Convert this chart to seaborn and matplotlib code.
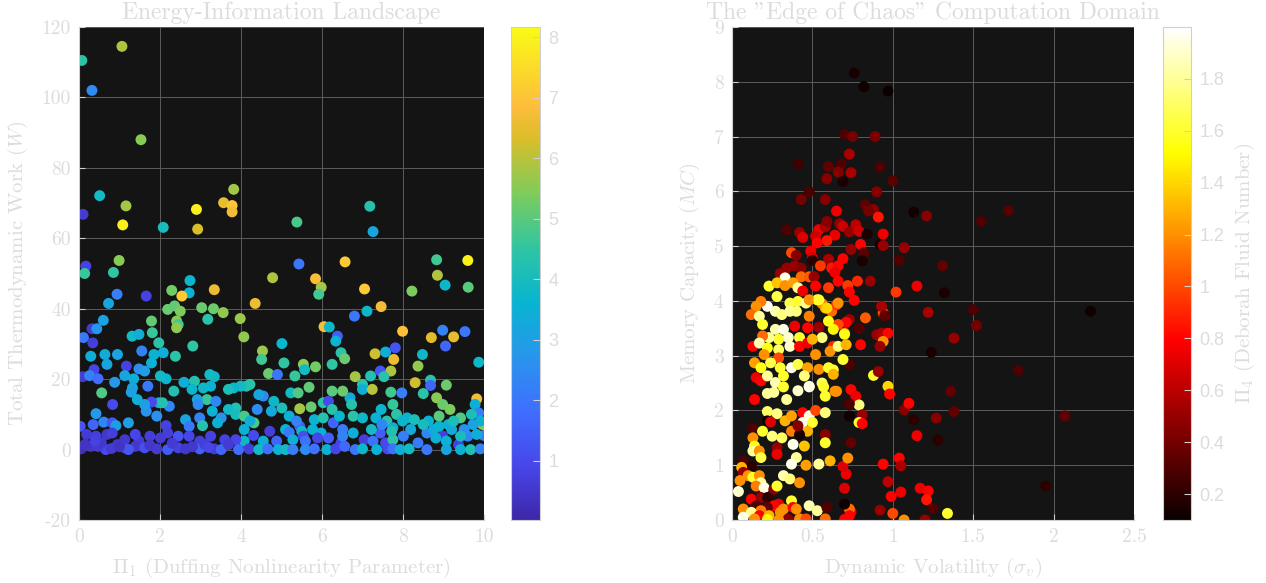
import matplotlib
matplotlib.use("Agg")
import numpy as np
import pandas as pd
import matplotlib.pyplot as plt
import seaborn as sns
from matplotlib.colors import LinearSegmentedColormap, Normalize
from matplotlib.ticker import FuncFormatter
import matplotlib.cm as mcm

# ---------------- LEFT PANEL DATA: Pi_1, W, colour value ----------------
left_x_top = [0.07,0.32,1.06,1.53,0.51,0.10,1.16,1.08,2.08,2.90, 2.93,3.57,3.78,3.78,3.82,5.38,7.18,7.26,0.17,0.14,
              0.99,0.85,5.43,6.57,4.78,5.84,5.98,5.92,7.05,8.22, 8.83,8.85,9.04,9.60,9.61,2.74,2.72,2.29,3.34,2.54,
              0.94,1.66,4.35]
left_y_top = [110.5,102,114.5,88,72.1,66.8,69.2,63.8,63.1,68.2, 62.6,70.1,69.3,67.5,73.9,64.6,69.1,61.9,52.1,50.0,
              53.7,50.3,52.7,53.3,48.8,48.5,46.1,44.1,45.6,45.0, 53.9,49.5,46.7,53.7,46.1,48.0,44.5,45.2,45.4,43.6,
              44.1,43.6,41.5]
left_c_top = [4.4,2.5,5.9,5.5,3.9,0.6,5.8,7.9,4.0,7.9, 6.3,6.5,7.0,6.7,5.8,4.8,4.3,3.2,0.8,4.6,
              5.5,4.5,2.0,7.1,5.9,6.8,5.8,4.7,7.1,5.4, 4.7,5.9,3.8,8.0,5.0,3.7,3.6,5.3,6.6,7.1,
              2.2,0.8,6.6]

left_x_mid = [0.73,0.60,0.32,0.44,0.11,0.34,0.29,0.64,0.69,0.95, 0.37,0.09,0.26,0.47,0.88,0.56,0.83,0.42,0.61,0.82,
              0.91,0.03,0.35,0.19,0.42,0.69,0.82,1.31,1.48,1.81, 1.79,1.55,1.85,1.97,2.08,1.79,2.19,2.36,2.50,2.41,
              2.45,2.41,3.03,3.32,3.56,3.18,2.81,2.38,3.98,4.07, 4.53,4.51,5.01,5.06,4.68,4.90,5.33,5.54,5.57,5.84,
              5.68,6.05,6.18,6.38,6.34,6.47,6.56,6.25,6.80,7.11, 7.46,7.99,8.70,8.98,9.05,9.25,9.53,7.31,7.57,7.81,
              7.77,8.48,8.37,7.44,7.70,6.82,7.20,7.53,7.00,7.00, 7.24,7.70,7.97,8.30,8.68,8.68,9.07,8.50,9.87,9.82,
              8.83,8.98,9.16,9.78,9.97,9.87,7.75,7.46,7.84,8.10, 8.28,8.89,9.42,6.69,6.73,6.77,7.00,6.25,6.51,6.03,
              6.16,6.25,5.23,5.41,5.45,5.73,5.01,4.81,4.55,4.44, 4.22,4.13,3.99,3.82,3.69,3.25,3.34,3.23,2.85,2.59,
              2.79,3.07,2.34,2.15,2.01,2.23,1.97,2.06,1.79,1.70, 1.17,1.13,1.35,1.32,1.29,1.48,1.62,1.66,1.62,1.44,
              1.92,2.15,2.63,2.72,2.98,3.05,3.16,2.92,2.94,3.38, 3.51,3.42,3.29,3.87,3.69,3.87,4.08,4.32,4.31,4.71,
              4.08,5.10,5.19,5.45,5.77,5.98,6.28,6.51,4.75,4.40, 4.22,5.19,5.37,5.50,5.81,6.03,6.43,7.33,7.60,7.99,
              8.63,9.12,9.69,9.91,1.22]
left_y_mid = [41.5,36.7,34.3,34.3,31.8,30.3,26.5,27.0,24.2,27.0, 22.7,20.7,21.0,20.1,19.1,16.1,12.8,10.2,7.8,7.6,
              6.8,6.6,7.1,4.3,3.8,4.3,4.7,32.2,32.7,33.2, 36.5,28.0,27.0,30.3,27.5,24.6,39.8,40.8,39.3,36.5,
              35.5,34.6,40.3,40.0,38.9,37.0,29.4,26.5,37.2,32.0, 28.0,25.6,30.1,24.6,21.6,21.3,20.9,24.2,22.7,23.5,
              17.7,34.9,34.8,32.2,30.8,27.5,25.8,24.2,37.9,39.3, 40.6,33.6,31.8,33.9,29.4,32.0,33.5,27.2,27.7,28.9,
              25.6,27.0,23.7,22.3,22.3,20.7,20.9,20.7,18.5,17.1, 17.1,16.3,16.1,19.0,19.7,18.2,18.3,15.9,24.8,14.4,
              14.7,12.8,11.4,12.8,7.1,10.4,12.8,11.4,10.0,9.0, 8.5,9.5,9.0,14.7,12.8,9.5,9.0,16.6,16.6,13.3,
              13.7,11.4,16.1,16.1,11.6,12.1,11.8,13.7,15.2,15.6, 18.5,18.0,18.0,17.5,17.1,18.0,20.7,21.3,19.4,19.1,
              17.1,17.5,16.6,20.1,20.9,12.3,13.3,13.3,13.5,18.0, 23.7,21.0,20.1,17.5,16.3,22.9,22.3,10.9,12.8,14.2,
              9.5,6.8,8.5,6.6,9.0,6.8,14.2,14.2,12.8,13.7, 9.0,7.6,10.9,11.8,11.4,10.0,9.5,7.6,4.0,5.2,
              5.7,5.7,4.9,6.6,5.7,4.7,7.6,5.7,10.9,11.4, 8.1,9.5,8.1,5.2,8.5,9.0,9.5,9.0,8.1,8.1,
              8.1,7.1,10.0,8.1,7.6]
left_c_mid = [3.2,3.1,0.6,2.7,2.0,0.7,3.4,3.3,3.2,3.1, 0.9,0.6,2.3,1.8,2.8,4.9,1.0,2.8,2.4,1.2,
              3.0,1.2,1.6,0.6,0.7,0.5,0.7,3.9,3.4,4.6, 5.1,2.3,3.6,4.4,3.4,3.5,5.2,5.1,5.4,5.5,
              4.7,5.6,5.2,5.2,5.6,4.4,4.5,4.4,5.7,5.6, 5.7,4.7,3.7,4.5,5.2,2.0,4.6,5.6,3.9,5.3,
              5.1,6.8,3.8,1.5,3.6,4.4,5.2,4.5,2.0,3.8, 6.7,6.9,6.4,2.3,1.6,6.5,2.0,6.2,3.4,1.2,
              6.6,3.8,5.6,1.3,5.9,5.8,4.2,4.4,4.4,3.5, 6.0,4.7,2.2,6.2,4.3,1.6,5.2,4.4,3.8,6.7,
              5.5,5.2,5.4,3.5,5.6,2.2,4.6,3.7,4.4,3.6, 4.1,5.0,4.9,3.3,4.3,4.4,3.8,5.0,5.2,4.4,
              1.0,4.4,3.9,4.9,5.8,5.2,4.1,3.8,2.4,3.2, 4.4,4.3,3.9,3.7,4.1,3.6,3.8,3.9,4.3,3.4,
              3.7,3.8,4.2,3.7,3.9,2.4,3.4,4.3,1.0,2.0, 0.8,3.2,3.4,3.1,3.0,2.5,2.9,2.6,3.0,3.4,
              2.6,0.8,3.2,2.0,2.3,4.3,4.6,3.1,2.5,2.4, 2.6,3.5,3.6,4.2,3.9,4.0,4.8,4.8,1.0,0.7,
              3.4,3.6,2.0,1.4,3.6,3.5,1.6,2.1,3.3,2.5, 3.4,3.5,2.3,3.8,3.6,4.3,3.7,3.5,4.3,3.7,
              3.6,3.6,4.1,3.5,3.0]

left_x_low = [6.47,7.04,7.44,7.26,7.57,7.75,8.37,8.98,9.37,9.60, 10.0,9.07,8.59,8.19,8.50,8.76,9.20,9.51,9.73,9.82,
              9.25,8.89,7.75,7.48,7.22,6.77,6.51,6.16,5.89,5.54, 5.59,5.28,4.88,4.55,4.08,3.87,3.60,3.25,2.98,2.72,
              2.45,2.19,2.01,1.75,1.48,1.39,1.13,9.42,8.81,8.01,7.72,
              0.05,0.29,0.66,0.47,0.95,1.13,1.39,1.62,1.22,1.92, 2.19,2.45,2.63,2.98,3.34,3.51,3.69,3.94,4.20,4.44,
              4.66,4.92,5.10,5.28,5.59,5.81,6.12,6.34,6.56,6.82, 7.00,7.35,7.62,7.75,7.93,8.15,8.59,9.07,9.42,9.67,9.91,
              0.15,0.55,0.80,1.00,1.75,2.30,2.80,3.10,3.20,0.40]
left_y_low = [1.9,2.8,4.7,2.4,1.9,2.8,1.9,3.8,1.4,3.8, 4.0,2.4,4.7,5.7,7.1,5.7,5.7,5.7,7.1,4.3,
              8.1,6.6,6.2,7.1,5.7,4.7,3.8,3.3,3.3,3.8, 2.4,2.8,2.4,2.4,2.4,2.8,2.8,3.8,2.4,3.8,
              3.8,4.7,3.3,3.8,2.4,4.3,2.8,3.8,3.3,3.8,5.2,
              0.2,0.9,0.0,0.9,1.4,0.5,0.9,0.5,0.0,0.2, 0.0,0.5,0.2,0.2,0.2,0.0,1.4,0.0,0.2,0.0,
              0.2,0.0,0.0,0.0,0.0,0.2,0.0,0.2,0.9,0.0, 0.2,0.0,0.2,0.2,0.0,0.2,0.0,0.0,0.0,0.0,0.2,
              1.5,2.0,0.3,0.8,1.2,1.8,0.8,1.5,0.6,2.5]
left_c_low = [0.8,0.7,1.4,1.9,1.0,4.5,2.1,0.7,0.8,2.4, 2.3,3.6,2.4,3.3,4.0,3.3,3.3,2.6,3.1,3.4,
              4.1,3.6,3.4,2.4,3.9,3.4,2.3,1.5,0.9,1.1, 1.9,3.4,1.6,3.4,3.8,0.9,0.8,0.8,0.7,0.9,
              1.2,0.7,0.6,0.7,0.6,0.9,0.5,4.0,3.5,2.2,4.2,
              0.3,0.5,1.0,0.6,0.5,0.7,0.5,1.1,1.3,0.6, 1.4,0.8,0.5,1.5,0.6,1.6,0.6,1.8,0.7,3.9,
              1.9,3.5,3.9,2.2,2.5,1.9,3.5,0.9,1.7,2.0, 3.8,3.6,1.0,1.9,3.4,3.9,2.0,3.2,3.5,4.2,2.3,
              0.4,0.5,0.6,0.4,0.5,0.6,0.5,0.7,0.9,0.8]

# ---------------- RIGHT PANEL DATA: sigma_v, MC, Pi_4 ----------------
right_x_up = [0.76,0.82,0.97,0.70,0.75,0.89,0.73,0.41,0.60,0.68, 0.92,0.59,0.66,0.74,0.69,1.00,0.48,0.90,0.43,0.58,
              0.83,0.88,0.85,0.65,0.91,1.13,1.21,1.55,1.72,0.34, 0.42,0.44,0.54,0.52,0.58,0.59,0.67,0.69,0.64,0.59,
              0.53,0.73,0.77,0.79,0.84,0.94,0.80,0.92,0.94,1.07, 0.74,0.82,0.49,0.37,0.40,0.50,0.50,0.60,0.69,0.81,
              1.04,1.31,0.34,0.39,0.43,0.55,0.62,0.66,0.64,0.30, 0.33,0.43,0.48,0.51,0.23,0.28,0.33,0.38,0.41,0.44,
              0.52,0.60,0.66,0.72,0.78,0.86,1.02,1.15,1.32,0.73]
right_y_up = [8.16,7.91,7.83,7.04,7.00,7.00,6.68,6.50,6.45,6.50, 6.44,6.23,6.35,6.34,6.18,6.19,5.99,5.99,5.85,5.85,
              5.75,5.67,5.64,5.64,5.53,5.62,5.55,5.45,5.65,5.30, 5.25,5.16,5.30,5.18,5.35,5.45,5.41,5.36,5.20,5.10,
              5.06,5.26,5.39,5.27,5.22,5.22,5.03,5.03,5.01,4.97, 4.94,4.88,4.91,4.88,4.83,4.79,4.74,4.76,4.77,4.73,
              4.74,4.64,4.60,4.64,4.60,4.64,4.60,4.64,4.52,4.50, 4.42,4.44,4.44,4.44,4.27,4.33,4.28,4.33,4.24,4.18,
              4.27,4.24,4.36,4.28,4.36,4.36,4.16,4.27,4.15,4.16]
right_c_up = [0.15,0.12,0.10,0.30,0.40,0.42,0.55,0.25,0.35,0.30, 0.30,0.45,0.45,0.55,0.15,0.33,0.28,0.45,0.40,0.45,
              0.35,0.45,0.40,0.75,0.85,0.12,0.45,0.30,0.32,0.30, 0.50,0.70,0.75,0.65,0.55,0.45,0.50,0.65,0.75,0.85,
              0.80,0.50,0.60,0.65,0.15,0.75,0.80,0.15,0.50,0.50, 0.50,0.33,0.75,1.00,0.45,0.70,0.20,0.55,0.80,0.15,
              0.30,0.35,0.50,0.50,0.45,0.95,0.85,0.80,0.75,0.50, 1.95,1.10,1.05,0.50,1.60,1.35,1.20,1.25,1.80,0.75,
              0.80,0.95,0.80,0.95,0.90,0.50,0.95,0.75,0.15,0.80]

right_x_mid = [2.23,2.07,1.95,1.78,1.50,1.52,1.38,1.36,1.38,1.22, 1.24,1.07,1.10,1.13,1.27,1.15,1.28,0.94,1.04,1.05,
               0.97,0.99,1.05,1.17,1.22,1.21,1.25,1.34,1.20,1.07, 1.00,0.92,0.74,0.73,0.70,0.70,0.70,0.71,0.69,0.72,
               0.74,0.97,0.98,0.88,0.91,0.74,0.77,0.79,0.73,0.73, 0.81,0.79,0.81,0.73,0.90,0.93,0.97,0.94,0.92,0.80,
               0.94,0.93,0.95,0.83,0.79,0.76,0.73,0.71,0.70,0.66, 0.63,0.62,0.56,0.53,0.58,0.65,0.60,0.63,0.69,0.63,
               0.65,0.56,0.48]
right_y_mid = [3.81,1.90,0.62,2.73,3.84,3.55,3.32,2.35,1.98,3.79, 3.06,2.01,2.13,1.83,1.86,1.54,1.46,1.02,1.13,0.99,
               0.70,0.43,0.51,0.58,0.53,0.37,0.21,0.12,0.00,0.00, 0.12,0.18,0.15,0.20,0.29,0.01,0.58,0.84,0.98,1.13,
               1.41,2.44,2.30,2.64,2.71,2.38,2.26,2.10,2.12,1.90, 1.92,1.78,1.76,2.84,3.38,3.41,3.41,3.26,3.17,3.20,
               3.78,3.90,3.73,3.69,3.50,4.01,3.66,3.61,3.41,3.57, 3.48,3.81,3.95,4.02,3.87,3.93,3.63,3.17,2.93,2.74,
               2.35,2.50,2.44]
right_c_mid = [0.12,0.35,0.20,0.30,0.30,0.40,0.50,0.35,0.35,0.55, 0.15,0.45,0.80,0.20,0.45,0.75,0.20,0.80,0.80,0.55,
               0.60,0.80,0.75,0.75,0.80,0.85,0.30,1.60,0.50,1.20, 1.00,0.50,0.75,1.10,0.12,0.80,0.70,0.75,0.70,1.20,
               0.35,1.40,0.80,1.60,0.50,0.80,0.75,1.75,0.30,0.12, 0.50,1.60,0.80,0.30,0.50,0.55,0.80,1.20,0.50,0.80,
               1.00,0.55,0.35,1.05,0.30,0.80,0.50,0.80,1.15,1.00, 1.50,1.10,1.15,1.60,1.25,0.95,1.55,0.90,1.60,1.60,
               1.20,1.70,1.90]

right_x_core = [0.28,0.22,0.18,0.15,0.12,0.17,0.19,0.27,0.31,0.36, 0.41,0.36,0.40,0.46,0.48,0.48,0.54,0.59,0.66,0.39,
                0.47,0.54,0.27,0.32,0.35,0.29,0.23,0.19,0.13,0.17, 0.22,0.29,0.36,0.42,0.42,0.47,0.52,0.56,0.50,0.61,
                0.70,0.66,0.71,0.14,0.20,0.29,0.18,0.24,0.30,0.37, 0.41,0.47,0.54,0.60,0.63,0.15,0.18,0.22,0.27,0.32,0.45]
right_y_core = [4.08,3.90,3.99,3.90,3.75,3.72,3.57,3.81,3.75,3.96, 3.99,3.81,3.81,3.96,4.02,3.72,4.02,3.87,3.96,3.54,
                3.51,3.52,3.48,3.48,3.33,3.30,3.33,3.36,3.17,3.23, 3.14,3.11,3.17,3.33,3.17,3.23,3.02,3.33,3.30,3.08,
                3.39,3.17,3.20,2.87,3.02,2.96,2.78,2.87,2.78,2.78, 2.84,2.78,2.75,2.78,2.66,2.60,2.54,2.63,2.51,2.63,2.63]
right_c_core = [1.65,1.98,1.15,1.20,1.10,1.80,1.60,1.85,1.75,1.65, 1.60,1.80,1.75,1.80,1.20,1.15,1.60,1.40,1.20,0.75,
                0.80,0.50,1.85,1.95,1.90,1.60,1.80,1.10,0.80,1.85, 1.55,1.70,1.90,1.60,0.80,0.75,1.20,1.75,1.30,1.20,
                1.55,1.75,1.30,1.25,1.20,1.00,1.55,1.65,1.60,1.95, 1.65,1.25,1.20,1.60,1.30,0.75,0.80,1.80,1.85,1.60,1.75]

right_x_base = [0.14,0.22,0.26,0.34,0.32,0.41,0.48,0.57,0.58,0.64, 0.22,0.28,0.22,0.24,0.33,0.37,0.44,0.48,0.52,0.58,
                0.44,0.50,0.37,0.47,0.42,0.41,0.13,0.19,0.25,0.31, 0.13,0.14,0.13,0.17,0.28,0.28,0.18,0.38,0.45,0.58,
                0.58,0.54,0.40,0.37,0.46,0.61,0.07,0.12,0.06, 0.07,0.10,0.05,0.13,0.17,0.32,0.36,0.42,0.18,0.15,
                0.20,0.26,0.28,0.04,0.12,0.18,0.22,0.29,0.26,0.22, 0.15,0.18,0.07,0.12,0.07,0.17,0.23,0.30,0.32,0.37,
                0.38,0.40,0.48,0.53,0.59,0.42,0.46,0.58,0.35,0.29,0.22,0.14,0.73]
right_y_base = [2.20,2.31,2.33,2.20,2.43,2.36,2.43,2.43,2.26,2.35, 1.98,1.94,1.81,1.79,1.81,1.90,1.96,1.90,2.00,1.96,
                1.78,1.78,1.62,1.62,1.56,1.72,1.68,1.62,1.53,1.50, 1.50,1.35,1.26,1.26,1.32,1.20,1.14,1.38,1.35,1.56,
                1.41,1.02,1.14,1.02,1.00,1.08,1.08,0.98,0.96, 0.87,0.81,0.72,0.78,0.81,0.81,0.75,0.68,0.68,0.62,
                0.59,0.56,0.62,0.52,0.38,0.41,0.41,0.29,0.26,0.23, 0.26,0.17,0.20,0.14,0.05,0.08,0.08,0.14,0.20,0.35,
                0.23,0.20,0.26,0.17,0.23,0.02,0.02,0.02,0.02,0.00,0.01,0.02,0.08]
right_c_base = [0.80,1.80,1.80,1.80,1.60,1.90,1.95,1.60,1.60,1.20, 1.70,1.75,0.12,0.70,1.30,1.25,0.80,1.95,1.00,1.75,
                1.95,1.60,1.15,1.30,0.15,0.45,0.30,1.60,1.75,1.70, 1.20,1.55,1.80,1.20,0.50,0.75,1.65,1.95,1.35,0.45,
                1.60,1.80,1.80,1.95,1.25,1.30,0.30,0.20,1.30, 0.50,1.20,1.20,1.60,1.20,1.85,1.75,1.20,1.80,1.15,
                1.95,0.45,1.60,1.90,0.80,0.50,0.20,0.75,0.80,0.35, 0.30,1.15,1.20,1.80,1.95,0.80,1.30,1.20,1.20,1.60,
                0.80,1.20,1.85,1.80,0.30,1.20,1.00,1.10,0.45,1.20,1.50,1.20,0.80]

left_xticks = [0, 2, 4, 6, 8, 10]
left_yticks = [-20, 0, 20, 40, 60, 80, 100, 120]
left_cticks = [1, 2, 3, 4, 5, 6, 7, 8]
right_xticks = [0, 0.5, 1, 1.5, 2, 2.5]
right_yticks = [0, 1, 2, 3, 4, 5, 6, 7, 8, 9]
right_cticks = [0.2, 0.4, 0.6, 0.8, 1, 1.2, 1.4, 1.6, 1.8]

# ---------------- style ----------------
plt.rcParams.update({
    "font.family": "serif",
    "font.serif": ["cmr10"],
    "mathtext.fontset": "cm",
    "axes.unicode_minus": False,
    "axes.formatter.use_mathtext": True,
})
TXT = "#dcdcdc"
AXBG = "#141414"
GRID = "#5c5c5c"
SPINE = "#cfcfcf"

parula_anchors = [(0.2422, 0.1504, 0.6603), (0.2803, 0.2782, 0.9221), (0.2440, 0.4358, 0.9988),
                  (0.1540, 0.5902, 0.9218), (0.0297, 0.7082, 0.8163), (0.1938, 0.7758, 0.6251),
                  (0.5044, 0.7993, 0.3480), (0.8634, 0.7406, 0.1596), (0.9956, 0.7434, 0.2371),
                  (0.9892, 0.8136, 0.1885), (0.9769, 0.9839, 0.0805)]
parula_pos = [0, 7/63, 14/63, 21/63, 28/63, 35/63, 42/63, 49/63, 53/63, 56/63, 1]
parula = LinearSegmentedColormap.from_list("parula", list(zip(parula_pos, parula_anchors)))
hot = plt.get_cmap("hot")

left_df = pd.DataFrame({"x": left_x_top + left_x_mid + left_x_low,
                        "y": left_y_top + left_y_mid + left_y_low,
                        "c": left_c_top + left_c_mid + left_c_low})
right_df = pd.DataFrame({"x": right_x_up + right_x_mid + right_x_core + right_x_base,
                         "y": right_y_up + right_y_mid + right_y_core + right_y_base,
                         "c": right_c_up + right_c_mid + right_c_core + right_c_base})

W, H = 1266, 583
fig = plt.figure(figsize=(W / 100, H / 100), dpi=100, facecolor="white")
ax1 = fig.add_axes([79 / W, 63 / H, 405 / W, 493 / H])
cax1 = fig.add_axes([511 / W, 63 / H, 29 / W, 493 / H])
ax2 = fig.add_axes([732 / W, 63 / H, 402 / W, 493 / H])
cax2 = fig.add_axes([1163 / W, 63 / H, 28 / W, 493 / H])

norm1 = Normalize(0.02, 8.17)
norm2 = Normalize(0.10, 2.0)
fmt = FuncFormatter(lambda v, p: "%g" % v)


def style_axes(ax, xt, yt, xlim, ylim):
    ax.set_facecolor(AXBG)
    ax.set_xlim(*xlim)
    ax.set_ylim(*ylim)
    ax.set_xticks(xt)
    ax.set_yticks(yt)
    ax.xaxis.set_major_formatter(fmt)
    ax.yaxis.set_major_formatter(fmt)
    ax.grid(True, color=GRID, linewidth=0.7)
    ax.set_axisbelow(True)
    for s in ["top", "right"]:
        ax.spines[s].set_visible(False)
    for s in ["left", "bottom"]:
        ax.spines[s].set_color(SPINE)
        ax.spines[s].set_linewidth(0.8)
    ax.tick_params(direction="in", length=4, color=SPINE, labelcolor=TXT, labelsize=14, pad=6)


sns.scatterplot(data=left_df, x="x", y="y", hue="c", palette=parula, hue_norm=norm1,
                s=62, linewidth=0, legend=False, ax=ax1)
style_axes(ax1, left_xticks, left_yticks, (0, 10), (-20, 120))
ax1.set_xlabel(r"$\Pi_1$ (Duffing Nonlinearity Parameter)", color=TXT, fontsize=15)
ax1.set_ylabel(r"Total Thermodynamic Work ($W$)", color=TXT, fontsize=15)
ax1.xaxis.set_label_coords(0.5, -0.073)
ax1.yaxis.set_label_coords(-0.12, 0.5)
ax1.set_title("Energy-Information Landscape", color=TXT, fontsize=17, pad=6)

sns.scatterplot(data=right_df, x="x", y="y", hue="c", palette=hot, hue_norm=norm2,
                s=62, linewidth=0, legend=False, ax=ax2)
style_axes(ax2, right_xticks, right_yticks, (0, 2.5), (0, 9))
ax2.set_xlabel(r"Dynamic Volatility ($\sigma_v$)", color=TXT, fontsize=15)
ax2.set_ylabel(r"Memory Capacity ($MC$)", color=TXT, fontsize=15)
ax2.xaxis.set_label_coords(0.5, -0.073)
ax2.yaxis.set_label_coords(-0.075, 0.5)
ax2.set_title('The "Edge of Chaos" Computation Domain', color=TXT, fontsize=17, pad=6)


def style_cbar(cax, cmap, norm, ticks):
    cb = fig.colorbar(mcm.ScalarMappable(norm=norm, cmap=cmap), cax=cax)
    cb.set_ticks(ticks)
    cb.ax.yaxis.set_major_formatter(fmt)
    cb.outline.set_edgecolor(SPINE)
    cb.outline.set_linewidth(0.8)
    cb.ax.tick_params(direction="in", length=5, color=SPINE, labelcolor=TXT, labelsize=13, pad=6)
    for t in cb.ax.get_yticklabels():
        t.set_fontfamily("Liberation Sans")
    return cb


cb1 = style_cbar(cax1, parula, norm1, left_cticks)
cb2 = style_cbar(cax2, hot, norm2, right_cticks)
cb2.set_label(r"$\Pi_4$ (Deborah Fluid Number)", color=TXT, fontsize=15, rotation=90)
cb2.ax.yaxis.set_label_coords(2.5, 0.5)

fig.savefig("out.png", dpi=100, facecolor="white")
